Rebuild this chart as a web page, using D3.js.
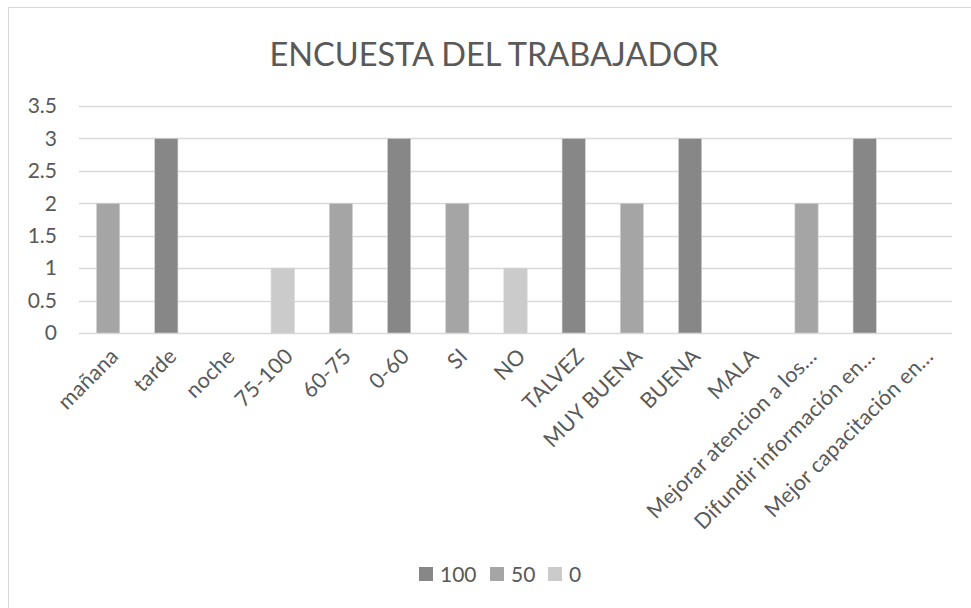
<!DOCTYPE html>
<html>
<head>
<meta charset="utf-8">
<script src="https://cdn.jsdelivr.net/npm/d3@7"></script>
<style>
  html, body { margin: 0; padding: 0; background: #fff; }
  svg { display: block; }
  text { font-family: Lato, "Open Sans", sans-serif; fill: #595959; }
</style>
</head>
<body>
<svg id="chart" width="971" height="608"></svg>
<script>
const title = "ENCUESTA DEL TRABAJADOR";
const categories = ["mañana", "tarde", "noche", "75-100", "60-75", "0-60", "SI", "NO", "TALVEZ",
  "MUY BUENA", "BUENA", "MALA", "Mejorar atencion a los…", "Difundir información en…", "Mejor capacitación en…"];
const seriesNames = ["100", "50", "0"];
const values100 = [0, 3, 0, 0, 0, 3, 0, 0, 3, 0, 3, 0, 0, 3, 0];
const values50  = [2, 0, 0, 0, 2, 0, 2, 0, 0, 2, 0, 0, 2, 0, 0];
const values0   = [0, 0, 0, 1, 0, 0, 0, 1, 0, 0, 0, 0, 0, 0, 0];
const yTicks = [0, 0.5, 1, 1.5, 2, 2.5, 3, 3.5];
const colors = ["#878787", "#a5a5a5", "#cbcbcb"];

const series = [values100, values50, values0];
const svg = d3.select("#chart");

// chart border
svg.append("rect").attr("x", 8.5).attr("y", 7.5).attr("width", 980).attr("height", 620)
  .attr("fill", "#fff").attr("stroke", "#d9d9d9").attr("stroke-width", 1);

const plot = { left: 79, right: 952, top: 106, bottom: 333 };
const x = d3.scaleBand().domain(categories).range([plot.left, plot.right])
  .paddingInner(0.6).paddingOuter(0.3);
const y = d3.scaleLinear().domain([0, 3.5]).range([plot.bottom, plot.top]);

// gridlines
svg.append("g").selectAll("line").data(yTicks).join("line")
  .attr("x1", plot.left).attr("x2", plot.right)
  .attr("y1", d => Math.round(y(d)) + 0.5).attr("y2", d => Math.round(y(d)) + 0.5)
  .attr("stroke", "#d9d9d9").attr("stroke-width", 1.3);

// y axis labels
const yAxis = d3.axisLeft(y).tickValues(yTicks).tickSize(0).tickPadding(0).tickFormat(d3.format("~g"));
const ya = svg.append("g").attr("transform", `translate(${plot.left - 22},0)`).call(yAxis);
ya.select(".domain").remove();
ya.selectAll("text").attr("font-size", 21).attr("font-family", "Lato").attr("fill", "#595959");

// bars
series.forEach((vals, si) => {
  svg.append("g").selectAll("rect").data(vals.map((v, i) => ({ v, c: categories[i] })).filter(d => d.v > 0))
    .join("rect")
    .attr("x", d => x(d.c)).attr("width", x.bandwidth())
    .attr("y", d => y(d.v)).attr("height", d => y(0) - y(d.v))
    .attr("fill", colors[si]).attr("stroke", "#d4d4d4").attr("stroke-width", 0.6);
});

// x labels
const xl = svg.append("g");
categories.forEach(c => {
  const cx = x(c) + x.bandwidth() / 2 + 1;
  xl.append("text").attr("transform", `translate(${cx},${plot.bottom + 14}) rotate(-45)`)
    .attr("text-anchor", "end").attr("dy", "0.7em").attr("font-size", 21.5)
    .attr("letter-spacing", 0.2).text(c);
});

// title
svg.append("text").attr("x", 494).attr("y", 66).attr("text-anchor", "middle")
  .attr("font-size", 32.5).text(title);

// legend
const legendItems = [
  { name: seriesNames[0], color: colors[0], x: 419 },
  { name: seriesNames[1], color: colors[1], x: 490 },
  { name: seriesNames[2], color: colors[2], x: 548 }
];
const lg = svg.append("g");
legendItems.forEach(it => {
  lg.append("rect").attr("x", it.x).attr("y", 567).attr("width", 14).attr("height", 14).attr("fill", it.color);
  lg.append("text").attr("x", it.x + 21).attr("y", 582).attr("font-size", 21).text(it.name);
});
</script>
</body>
</html>
